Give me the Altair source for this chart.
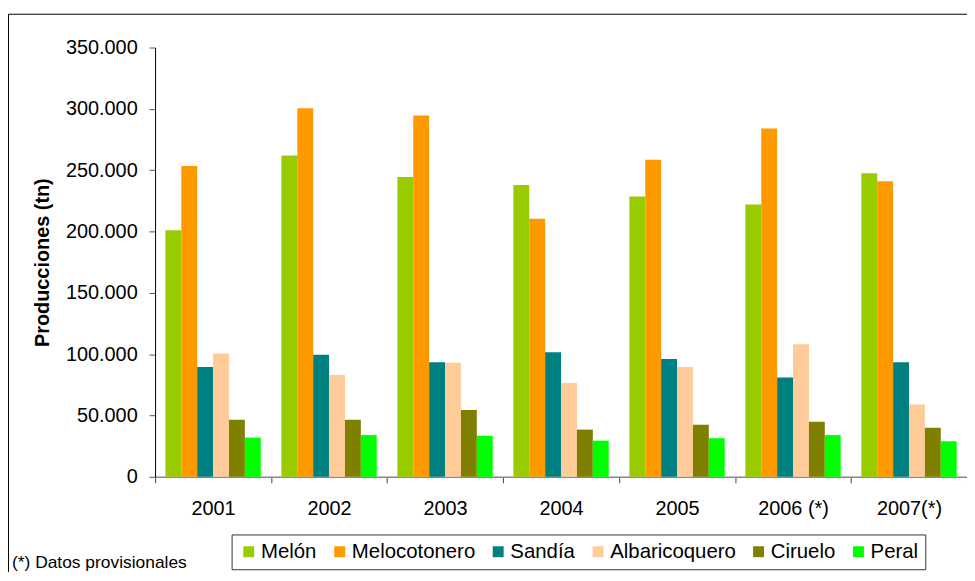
import altair as alt
import pandas as pd

years = ["2001", "2002", "2003", "2004", "2005", "2006 (*)", "2007(*)"]
series = ["Melón", "Melocotonero", "Sandía", "Albaricoquero", "Ciruelo", "Peral"]
colors = ["#99CC00", "#FF9900", "#008080", "#FFCC99", "#808000", "#00FF00"]

melon = [201000, 262000, 244500, 238000, 228500, 222000, 247500]
melocotonero = [253500, 300500, 294500, 210500, 258500, 284000, 241000]
sandia = [89500, 99500, 93500, 101500, 96000, 81000, 93500]
albaricoquero = [100500, 83000, 93000, 76500, 89500, 108000, 59000]
ciruelo = [46500, 46500, 54500, 38500, 42500, 45000, 40000]
peral = [32000, 34000, 33500, 29500, 31500, 34000, 29000]

y_ticks = [0, 50000, 100000, 150000, 200000, 250000, 300000, 350000]
footnote = "(*) Datos provisionales"
y_title = "Producciones (tn)"

values = [melon, melocotonero, sandia, albaricoquero, ciruelo, peral]
rows = []
for s, vals in zip(series, values):
    for yr, v in zip(years, vals):
        rows.append({"Año": yr, "Cultivo": s, "Produccion": v})
df = pd.DataFrame(rows)

FONT = "Liberation Sans"
W, H = 817, 432
TOTAL_H = 564

bars = alt.Chart(df).mark_bar().encode(
    x=alt.X(
        "Año:N",
        sort=years,
        scale=alt.Scale(paddingInner=0, paddingOuter=0),
        axis=alt.Axis(
            title=None,
            labelFont=FONT,
            labelFontSize=20,
            labelColor="black",
            labelAngle=0,
            labelPadding=16,
            tickSize=6,
            tickBand="extent",
            tickColor="#444444",
            domainColor="#888888",
            domainWidth=1.5,
        ),
    ),
    xOffset=alt.XOffset(
        "Cultivo:N", sort=series, scale=alt.Scale(paddingInner=0, paddingOuter=0.65)
    ),
    y=alt.Y(
        "Produccion:Q",
        scale=alt.Scale(domain=[0, 350000], nice=False),
        axis=alt.Axis(
            values=y_ticks,
            labelExpr="replace(format(datum.value, ',d'), ',', '.')",
            grid=False,
            title=y_title,
            titleFont=FONT,
            titleFontSize=20,
            titleFontWeight="bold",
            titleColor="black",
            titleX=-113,
            titleY=216,
            titleAngle=270,
            titleAlign="center",
            titleBaseline="middle",
            labelFont=FONT,
            labelFontSize=20,
            labelColor="black",
            labelPadding=12,
            tickSize=6,
            tickColor="#555555",
            domainColor="black",
        ),
    ),
    color=alt.Color(
        "Cultivo:N",
        sort=series,
        scale=alt.Scale(domain=series, range=colors),
        legend=alt.Legend(
            orient="none",
            legendX=77,
            legendY=490,
            direction="horizontal",
            title=None,
            symbolType="square",
            symbolSize=121,
            symbolStrokeWidth=0,
            labelFont=FONT,
            labelFontSize=20.5,
            labelColor="black",
            labelOffset=2,
            columnPadding=12.5,
            padding=7,
            strokeColor="#333333",
        ),
    ),
)

border = alt.Chart(pd.DataFrame({"k": [0]})).mark_rect(
    fill="transparent", stroke="black", strokeWidth=1
).encode(
    x=alt.value(-147.5),
    x2=alt.value(W + 30),
    y=alt.value(-33.5),
    y2=alt.value(H + 200),
)

note = alt.Chart(pd.DataFrame({"t": [footnote]})).mark_text(
    align="left", baseline="alphabetic", font=FONT, fontSize=17.5, color="black"
).encode(
    x=alt.value(-144),
    y=alt.value(523.5),
    text="t:N",
)

chart = (
    alt.layer(border, bars, note)
    .properties(
        width=W,
        height=H,
        padding={"left": 148, "top": 38, "right": 0, "bottom": TOTAL_H - 38 - H},
        autosize=alt.AutoSizeParams(type="none"),
        background="white",
    )
    .configure_view(stroke="transparent")
)

chart.save("out.html", embed_options={"renderer": "svg", "actions": False})
